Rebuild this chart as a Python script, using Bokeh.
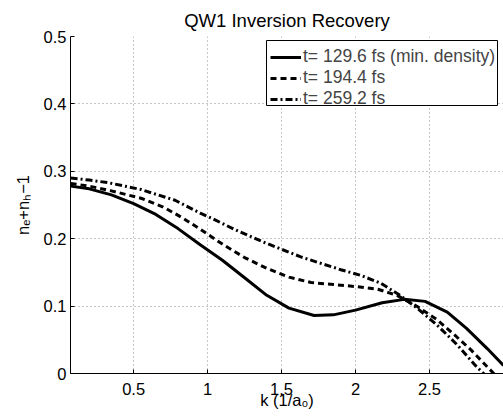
from bokeh.embed import file_html
from bokeh.models import FixedTicker, Legend, LegendItem, Range1d
from bokeh.plotting import figure
from bokeh.resources import INLINE

# Wave number k (1/a0) and occupation n_e + n_h - 1 for three delay times
k_min, k_max = 0.0733, 3.0

k_129 = [0.074, 0.2, 0.35, 0.5, 0.65, 0.8, 0.95, 1.1, 1.25, 1.4, 1.55, 1.72,
         1.85, 2.0, 2.18, 2.33, 2.47, 2.62, 2.75, 2.89, 3.0]
n_129 = [0.278, 0.274, 0.265, 0.252, 0.236, 0.215, 0.191, 0.168, 0.142, 0.116,
         0.097, 0.086, 0.087, 0.094, 0.105, 0.110, 0.107, 0.091, 0.067, 0.037, 0.012]

k_194 = [0.074, 0.2, 0.35, 0.55, 0.7, 0.83, 0.95, 1.1, 1.25, 1.4, 1.55, 1.7,
         1.85, 2.0, 2.15, 2.28, 2.42, 2.55, 2.66, 2.78, 2.89, 3.0]
n_194 = [0.282, 0.278, 0.271, 0.260, 0.247, 0.231, 0.214, 0.192, 0.172, 0.156,
         0.143, 0.135, 0.132, 0.129, 0.125, 0.116, 0.099, 0.080, 0.059, 0.035,
         0.010, -0.015]

k_259 = [0.074, 0.2, 0.33, 0.55, 0.78, 0.95, 1.03, 1.18, 1.4, 1.63, 1.9, 2.03,
         2.17, 2.3, 2.41, 2.55, 2.69, 2.81, 2.92]
n_259 = [0.290, 0.287, 0.283, 0.273, 0.257, 0.238, 0.230, 0.214, 0.193, 0.173,
         0.154, 0.146, 0.134, 0.116, 0.098, 0.072, 0.042, 0.012, -0.012]

series_labels = ["t= 129.6 fs (min. density)", "t= 194.4 fs", "t= 259.2 fs"]

x_ticks = [0.5, 1.0, 1.5, 2.0, 2.5]
x_tick_labels = ["0.5", "1", "1.5", "2", "2.5"]
y_ticks = [0.0, 0.1, 0.2, 0.3, 0.4, 0.5]
y_tick_labels = ["0", "0.1", "0.2", "0.3", "0.4", "0.5"]

x_title = "k (1/a\u2080)"
y_title = "n\u2091+n\u2095\u22121"

FONT = "Liberation Sans"
SIZE = "16.5px"

# Canvas geometry: the frame spans 433 x 337 px
W, H = 503, 417
LEFT, TOP, BOTTOM = 70, 36, 44
FRAME_W, FRAME_H = W - LEFT, H - TOP - BOTTOM
y_min, y_max = 0.0, 0.5

p = figure(
    width=W, height=H,
    x_range=Range1d(k_min, k_max), y_range=Range1d(y_min, y_max),
    output_backend="svg", toolbar_location=None,
    min_border_left=LEFT, min_border_right=0,
    min_border_top=TOP, min_border_bottom=BOTTOM,
    title="QW1 Inversion Recovery",
)
p.outline_line_color = None
p.background_fill_color = "white"
p.border_fill_color = "white"

p.title.align = "center"
p.title.text_font = FONT
p.title.text_font_size = "18.5px"
p.title.text_font_style = "normal"
p.title.text_color = "black"
p.title.standoff = 12

for ax in (p.xaxis[0], p.yaxis[0]):
    ax.axis_line_color = "black"
    ax.axis_line_width = 1
    ax.major_tick_in = 4
    ax.major_tick_out = 0
    ax.major_tick_line_color = "black"
    ax.minor_tick_line_color = None
    ax.major_label_text_font = FONT
    ax.major_label_text_font_size = SIZE
    ax.major_label_text_color = "black"
    ax.axis_label_text_font = FONT
    ax.axis_label_text_font_size = SIZE
    ax.axis_label_text_font_style = "normal"
    ax.axis_label_text_color = "black"

p.xaxis.ticker = FixedTicker(ticks=x_ticks)
p.xaxis.major_label_overrides = dict(zip(x_ticks, x_tick_labels))
p.xaxis.major_label_standoff = 9
p.xaxis.axis_label = x_title
p.xaxis.axis_label_standoff = -7

p.yaxis.ticker = FixedTicker(ticks=y_ticks)
p.yaxis.major_label_overrides = dict(zip(y_ticks, y_tick_labels))
p.yaxis.major_label_standoff = 4
p.yaxis.axis_label = y_title
p.yaxis.axis_label_standoff = 9

for g in (p.xgrid[0], p.ygrid[0]):
    g.grid_line_color = "#8c8c8c"
    g.grid_line_width = 1
    g.grid_line_dash = "1 3"

r1 = p.line(k_129, n_129, line_color="black", line_width=3)
r2 = p.line(k_194, n_194, line_color="black", line_width=3, line_dash="6 4")
r3 = p.line(k_259, n_259, line_color="black", line_width=3, line_dash="7 3 2 3")

# Legend panel (white box with black border), offsets from the frame's
# bottom-left corner in px
BOX_L, BOX_R, BOX_B, BOX_T = 196, 427, 268, 333
kx = (k_max - k_min) / FRAME_W
vy = (y_max - y_min) / FRAME_H
box_x = [k_min + v * kx for v in (BOX_L, BOX_R, BOX_R, BOX_L, BOX_L)]
box_y = [y_min + v * vy for v in (BOX_B, BOX_B, BOX_T, BOX_T, BOX_B)]
p.patch(box_x, box_y, fill_color="white", fill_alpha=1,
        line_color="black", line_width=1, line_join="miter")

legend = Legend(
    items=[LegendItem(label=series_labels[0], renderers=[r1]),
           LegendItem(label=series_labels[1], renderers=[r2]),
           LegendItem(label=series_labels[2], renderers=[r3])],
    location=(200, 264),
    label_text_font=FONT, label_text_font_size="17.5px",
    glyph_width=31, glyph_height=20, label_height=20, label_standoff=2,
    spacing=0, padding=1, margin=0,
    border_line_color=None,
    background_fill_alpha=0,
)
p.add_layout(legend, "center")

open("out.html", "w").write(file_html(p, INLINE))
